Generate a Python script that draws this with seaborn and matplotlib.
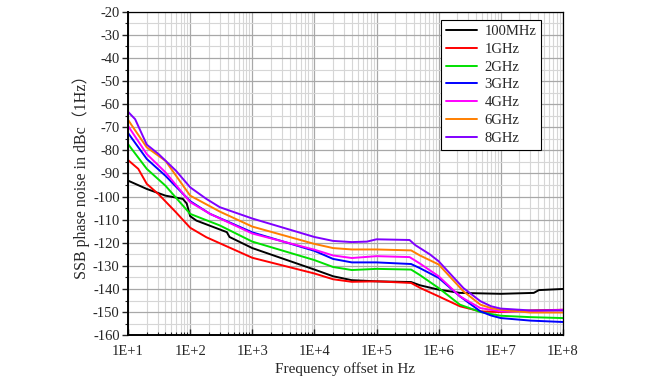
import pandas as pd
import seaborn as sns
import matplotlib.pyplot as plt
from matplotlib.ticker import LogLocator, MultipleLocator, FixedLocator

# curves: offset frequency (Hz) and SSB phase noise (dBc/Hz)
f_100M = [10, 20, 40, 76, 88, 100, 126, 389, 430, 1000, 1e4, 2e4, 4e4, 1e5, 3.6e5, 5e5, 1e6, 2.2e6, 1e7, 3.4e7, 4.1e7, 1e8]
pn_100M = [-93.1, -96.7, -99.6, -101, -103, -108.5, -110.4, -115.4, -117.5, -122.3, -131.6, -134.5, -136.2, -136.7, -137, -138.4, -140.3, -141.7, -142.1, -141.7, -140.5, -140]

f_1G = [10, 14.6, 20, 31, 59, 100, 182, 1000, 1e4, 2e4, 4e4, 1e5, 3.6e5, 5e5, 1e6, 2.2e6, 4.7e6, 1e7, 3e7, 1e8]
pn_1G = [-84.2, -88, -94.5, -99, -106.8, -113.5, -117.6, -126.5, -133.3, -135.8, -136.9, -136.7, -137.4, -139.5, -143.2, -147.5, -149.7, -150, -149.3, -149]

f_2G = [10, 20, 40, 100, 300, 1000, 1e4, 2e4, 4e4, 1e5, 3.6e5, 5e5, 1e6, 2.2e6, 4.7e6, 1e7, 3e7, 1e8]
pn_2G = [-77.3, -88, -95.3, -107.5, -112.5, -119.5, -127.5, -130.5, -131.8, -131.3, -131.6, -134, -139.6, -146.8, -150, -151.6, -152.2, -152.6]

f_3G = [10, 20, 40, 100, 209, 1000, 1e4, 2e4, 4e4, 1e5, 3.6e5, 5e5, 1e6, 2.2e6, 4.7e6, 7e6, 1e7, 3e7, 1e8]
pn_3G = [-72.5, -83.7, -91, -102, -107.5, -115.5, -123.5, -127, -128.5, -128.5, -129.2, -131, -135.2, -143.2, -149.7, -151.5, -152.6, -153.7, -154.3]

f_4G = [10, 20, 40, 100, 209, 1000, 1e4, 2e4, 4e4, 1e5, 3.4e5, 5e5, 1e6, 2.2e6, 4.7e6, 1e7, 3e7, 1e8]
pn_4G = [-69.4, -81.6, -89.5, -102.4, -107.5, -116, -123, -125.5, -126.6, -125.8, -126.2, -129, -134.5, -143.2, -148.3, -149.7, -149.7, -149]

f_6G = [10, 20, 40, 100, 300, 1000, 1e4, 2e4, 4e4, 1e5, 3.6e5, 5e5, 1e6, 2.5e6, 4.7e6, 7e6, 1e7, 3e7, 1e8]
pn_6G = [-66.8, -78.7, -84.5, -99.6, -106.5, -113, -120.5, -122.3, -122.9, -122.9, -123.3, -125.5, -129.4, -141, -146.8, -148.3, -149, -150.2, -150.2]

f_8G = [10, 13, 20, 31, 59, 100, 182, 300, 1000, 1e4, 2e4, 4e4, 7e4, 1e5, 3.4e5, 4.2e5, 7.2e5, 1e6, 2.5e6, 4.7e6, 7e6, 1e7, 3e7, 1e8]
pn_8G = [-63.3, -66.5, -77.5, -81.6, -88.8, -96, -101, -104.6, -109.5, -117.5, -119.2, -119.7, -119.5, -118.5, -118.8, -121, -125, -128, -139.6, -145.3, -147.5, -148.5, -149.3, -149.3]

carriers = ['100MHz', '1GHz', '2GHz', '3GHz', '4GHz', '6GHz', '8GHz']
colors = ['#000000', '#ff0000', '#00e000', '#0000ff', '#ff00ff', '#ff7f00', '#8000ff']
x_ticklabels = ['1E+1', '1E+2', '1E+3', '1E+4', '1E+5', '1E+6', '1E+7', '1E+8']

#Build one long table
freqs = [f_100M, f_1G, f_2G, f_3G, f_4G, f_6G, f_8G]
noise = [pn_100M, pn_1G, pn_2G, pn_3G, pn_4G, pn_6G, pn_8G]
parts = []
for name, f, pn in zip(carriers, freqs, noise):
    parts.append(pd.DataFrame({'freq': f, 'pn': pn, 'carrier': name}))
df = pd.concat(parts, ignore_index=True)

sns.set_style('white')
plt.rcParams['font.family'] = ['Liberation Serif', 'DejaVu Serif']
plt.rcParams['axes.unicode_minus'] = False

fig = plt.figure(figsize=(6.5, 3.8), dpi=100)
ax = fig.add_axes([0.197, 0.118, 0.669, 0.851])

sns.lineplot(data=df, x='freq', y='pn', hue='carrier', hue_order=carriers,
             palette=colors, linewidth=1.4, sort=False, estimator=None, ax=ax)

ax.set_xscale('log')
ax.set_xlim(10, 1e8)
ax.set_ylim(-160, -20)
ax.xaxis.set_major_locator(FixedLocator([1e1, 1e2, 1e3, 1e4, 1e5, 1e6, 1e7, 1e8]))
ax.set_xticklabels(x_ticklabels)
ax.xaxis.set_minor_locator(LogLocator(base=10, subs=range(2, 10), numticks=20))
ax.yaxis.set_major_locator(MultipleLocator(10))
ax.yaxis.set_minor_locator(MultipleLocator(5))

ax.grid(which='major', color='#a8a8a8', linewidth=0.9)
ax.grid(which='minor', color='#d6d6d6', linewidth=0.8)
ax.set_axisbelow(True)

ax.tick_params(axis='x', which='major', direction='in', length=4, width=1, labelsize=10.5, pad=7)
ax.tick_params(axis='x', which='minor', direction='in', length=2.5, width=0.8)
ax.tick_params(axis='y', which='major', direction='out', length=4, width=1, labelsize=10.5, left=True, pad=2)
ax.tick_params(axis='y', which='minor', direction='out', length=2.5, width=0.8, left=True)
ax.tick_params(axis='x', which='both', bottom=True)

for side in ['left', 'bottom']:
    ax.spines[side].set_linewidth(1.4)
    ax.spines[side].set_color('black')
for side in ['top', 'right']:
    ax.spines[side].set_linewidth(0.9)
    ax.spines[side].set_color('black')

ax.set_xlabel('Frequency offset in Hz', fontsize=11, labelpad=3)
ax.set_ylabel('SSB phase noise in dBc\uff081Hz\uff09', fontsize=11.5, labelpad=2,
              family=['Liberation Serif', 'Noto Sans CJK SC'])

leg = ax.legend(loc='upper right', bbox_to_anchor=(0.957, 0.985), fontsize=10.5,
                frameon=True, fancybox=False, handlelength=2.1, labelspacing=0.32,
                borderpad=0.35, handletextpad=0.5, borderaxespad=0.2)
leg.get_frame().set_edgecolor('black')
leg.get_frame().set_linewidth(0.8)
leg.get_frame().set_alpha(1)
for line in leg.get_lines():
    line.set_linewidth(1.4)

plt.savefig('out.png', dpi=100)
